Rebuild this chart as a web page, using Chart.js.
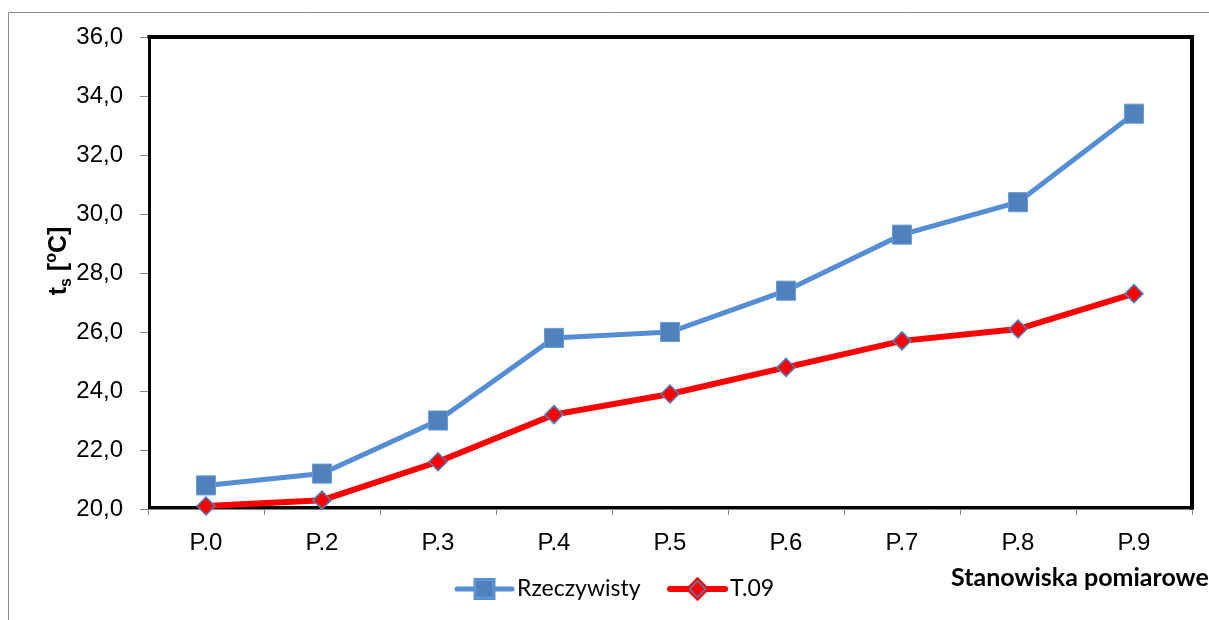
<!DOCTYPE html>
<html lang="pl">
<head>
<meta charset="utf-8">
<title>Temperatura ts na stanowiskach pomiarowych</title>
<script src="https://cdn.jsdelivr.net/npm/chart.js@4/dist/chart.umd.min.js"></script>
<style>
  html, body { margin: 0; padding: 0; background: #fff; }
  canvas { display: block; }
</style>
</head>
<body>
<canvas id="wykres" width="1209" height="620"></canvas>
<script>
// dane pomiarowe
const stanowiska = ['P.0', 'P.2', 'P.3', 'P.4', 'P.5', 'P.6', 'P.7', 'P.8', 'P.9'];
const rzeczywisty = [20.8, 21.2, 23.0, 25.8, 26.0, 27.4, 29.3, 30.4, 33.4];
const t09 = [20.1, 20.3, 21.6, 23.2, 23.9, 24.8, 25.7, 26.1, 27.3];
const nazwySerii = ['Rzeczywisty', 'T.09'];
const osYmin = 20, osYmax = 36, osYkrok = 2;

const szary = '#868686';
const fontArial = "'Liberation Sans', Arial, sans-serif";
const fontCalibri = "Lato, 'Open Sans', sans-serif";

// ramki, tytuły osi i legenda rysowane ręcznie
const dodatki = {
    id: 'dodatki',
    beforeDraw(chart) {
        const c = chart.ctx;
        c.save();
        c.fillStyle = '#fff';
        c.fillRect(0, 0, chart.width, chart.height);
        c.strokeStyle = '#8c8c8c';
        c.lineWidth = 1;
        c.beginPath();
        c.moveTo(8.5, chart.height);
        c.lineTo(8.5, 12.5);
        c.lineTo(chart.width, 12.5);
        c.stroke();
        c.restore();
    },
    beforeDatasetsDraw(chart) {
        const a = chart.chartArea;
        const c = chart.ctx;
        c.save();
        c.strokeStyle = '#000';
        c.lineCap = 'square';
        c.lineWidth = 3;
        c.beginPath();
        c.moveTo(a.left + 1.5, a.top);
        c.lineTo(a.left + 1.5, a.bottom - 1.5);
        c.lineTo(a.right, a.bottom - 1.5);
        c.stroke();
        c.lineWidth = 4;
        c.beginPath();
        c.moveTo(a.left + 1.5, a.top);
        c.lineTo(a.right, a.top);
        c.lineTo(a.right, a.bottom - 1.5);
        c.stroke();
        c.restore();
    },
    afterDraw(chart) {
        const c = chart.ctx;
        c.save();
        c.fillStyle = '#000';

        // tytuł osi Y: t_s [°C]
        const duzy = `bold 25px ${fontArial}`;
        const maly = `bold 16px ${fontArial}`;
        const kawalki = [
            { t: 't', f: duzy, dy: 0 },
            { t: 's', f: maly, dy: 5 },
            { t: ' [', f: duzy, dy: 0 },
            { t: 'o', f: maly, dy: -10 },
            { t: 'C]', f: duzy, dy: 0 }
        ];
        let suma = 0;
        kawalki.forEach(k => { c.font = k.f; k.w = c.measureText(k.t).width; suma += k.w; });
        c.translate(66, 261);
        c.rotate(-Math.PI / 2);
        c.textBaseline = 'alphabetic';
        c.textAlign = 'left';
        let x = -suma / 2;
        kawalki.forEach(k => { c.font = k.f; c.fillText(k.t, x, k.dy); x += k.w; });
        c.setTransform(1, 0, 0, 1, 0, 0);

        // tytuł osi X
        c.font = `bold 25px ${fontCalibri}`;
        c.textBaseline = 'middle';
        c.fillText('Stanowiska pomiarowe', 951, 578);

        // legenda
        const y = 589;
        const ds = chart.data.datasets;
        const probki = [{ x: 457, d: ds[0] }, { x: 670, d: ds[1] }];
        c.font = `23px ${fontCalibri}`;
        probki.forEach(p => {
            c.strokeStyle = p.d.borderColor;
            c.lineWidth = p.d.borderWidth;
            c.lineCap = 'round';
            c.beginPath();
            c.moveTo(p.x, y);
            c.lineTo(p.x + 55, y);
            c.stroke();
            Chart.helpers.drawPoint(c, {
                pointStyle: p.d.pointStyle,
                radius: p.d.pointStyle === 'rect' ? 12 : 8,
                borderWidth: p.d.pointBorderWidth,
                rotation: 0
            }, p.x + 27.5, y);
            c.fillStyle = p.d.pointBackgroundColor;
            c.strokeStyle = p.d.pointBorderColor;
            c.lineWidth = p.d.pointBorderWidth;
            c.fill();
            c.stroke();
            c.fillStyle = '#000';
            c.fillText(p.d.label, p.x + 60, y);
        });
        c.restore();
    }
};

new Chart(document.getElementById('wykres'), {
    type: 'line',
    data: {
        labels: stanowiska,
        datasets: [
            {
                label: nazwySerii[0],
                data: rzeczywisty,
                borderColor: '#558ED5',
                borderWidth: 5,
                pointStyle: 'rect',
                pointRadius: 13.5,
                pointHoverRadius: 13.5,
                pointBackgroundColor: '#4F81BD',
                pointBorderColor: '#6A9BD8',
                pointBorderWidth: 1,
                tension: 0,
                clip: false
            },
            {
                label: nazwySerii[1],
                data: t09,
                borderColor: '#FF0000',
                borderWidth: 6,
                pointStyle: 'rectRot',
                pointRadius: 9,
                pointHoverRadius: 9,
                pointBackgroundColor: '#FF0000',
                pointBorderColor: '#4F81BD',
                pointBorderWidth: 1.5,
                tension: 0,
                clip: false
            }
        ]
    },
    options: {
        responsive: false,
        animation: false,
        events: [],
        layout: { padding: { top: 37, right: 17, left: 0, bottom: 0 } },
        plugins: {
            legend: { display: false },
            tooltip: { enabled: false }
        },
        scales: {
            x: {
                type: 'category',
                offset: true,
                afterFit: s => { s.height = 111; },
                grid: {
                    offset: true,
                    drawOnChartArea: false,
                    drawTicks: true,
                    tickLength: 6,
                    color: szary
                },
                border: { display: true, color: szary, width: 1 },
                ticks: {
                    color: '#000',
                    padding: 14,
                    maxRotation: 0,
                    font: { family: fontArial, size: 24 }
                }
            },
            y: {
                min: osYmin,
                max: osYmax,
                afterFit: s => { s.width = 148; },
                grid: {
                    drawOnChartArea: false,
                    drawTicks: true,
                    tickLength: 8,
                    color: szary
                },
                border: { display: true, color: szary, width: 1 },
                ticks: {
                    stepSize: osYkrok,
                    color: '#000',
                    padding: 17,
                    font: { family: fontArial, size: 24 },
                    callback: v => v.toFixed(1).replace('.', ',')
                }
            }
        }
    },
    plugins: [dodatki]
});
</script>
</body>
</html>
